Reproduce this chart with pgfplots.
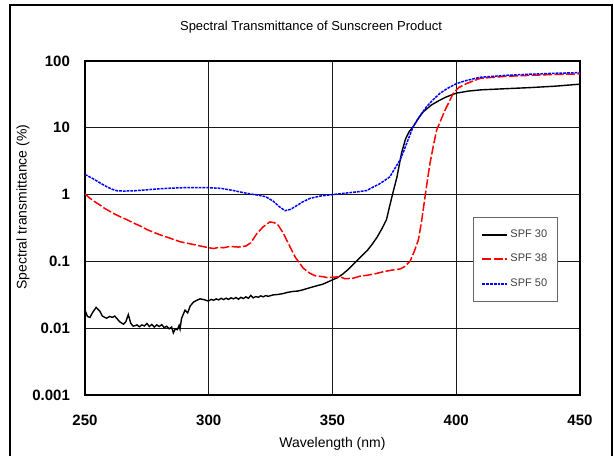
\documentclass[border=0pt]{standalone}
\usepackage{fontspec}
\setmainfont{Liberation Sans}
\usepackage{pgfplots}
\pgfplotsset{compat=1.18}

% SPF 30
\pgfplotstableread{
wl T
250 0.0186
251 0.0150
252 0.0145
253 0.0170
254.5 0.0205
256 0.0180
257 0.0152
258.7 0.0141
260 0.0150
261 0.0145
262 0.0152
263 0.0138
264 0.0125
265.5 0.0115
266.5 0.0125
267.5 0.0160
268.5 0.0118
269.5 0.0107
271 0.0112
272 0.0105
273 0.0112
274 0.0108
275 0.0118
276 0.0106
277 0.0114
278 0.0104
279 0.0112
280 0.0106
281 0.0113
282 0.0102
283 0.0107
284 0.0098
285 0.0104
285.7 0.0085
286.5 0.0098
287.3 0.0095
288 0.0110
288.4 0.0097
289 0.0140
290.4 0.0186
291.5 0.0170
292.5 0.0215
293.8 0.0245
295 0.0260
296.5 0.0275
298 0.0268
299.8 0.0255
301 0.0270
302 0.0262
303 0.0275
304 0.0265
305 0.0280
306 0.0268
307 0.0282
308 0.0270
309 0.0285
310 0.0275
311 0.0288
312 0.0272
313 0.0290
314 0.0278
315 0.0295
316 0.0280
317 0.0310
318 0.0285
319 0.0298
320 0.0290
321 0.0305
322 0.0295
323 0.0308
324 0.0300
326 0.0315
328 0.0320
330 0.0330
332 0.0345
334 0.0355
336 0.0360
338 0.0375
340 0.0395
342 0.0415
344 0.0435
346 0.0455
348 0.0490
350 0.053
352 0.057
354 0.064
356 0.074
358 0.087
360 0.104
362 0.123
364 0.145
366 0.180
368 0.230
370 0.310
371.8 0.42
373 0.65
374.5 1.1
376 1.8
377.9 4.2
379.5 6.8
381 8.8
382.6 10.4
384.5 13.5
386.7 17.4
390 22
393.4 26
396 29
400 33
405 35.5
410 37
420 38.5
430 40
440 42
450 45
}\spfA

% SPF 38
\pgfplotstableread{
wl T
250 1.02
252 0.88
254 0.78
256 0.70
258 0.62
261.4 0.525
264 0.47
267 0.42
270 0.37
273 0.33
275 0.30
278 0.27
281 0.245
284 0.225
288.4 0.197
292 0.185
296 0.172
300 0.160
302 0.156
304 0.162
306 0.160
308 0.166
310 0.166
312 0.164
315 0.170
317 0.19
319.4 0.26
322 0.33
324.7 0.39
326.5 0.38
328 0.35
330 0.27
332.8 0.166
335 0.115
338.2 0.079
341 0.066
343 0.061
346.3 0.059
348 0.057
350 0.058
353 0.059
355 0.055
358.4 0.056
361 0.060
364 0.062
367 0.065
370.5 0.070
374 0.074
377.3 0.077
379 0.083
381.3 0.10
383 0.14
384.7 0.21
386 0.40
387.4 0.93
388.5 1.8
389.4 2.95
390.8 5.5
392.1 9.3
395.5 18.5
398.8 32.8
401 40
404.2 46
409.6 55
420 59
430 61
440 63
450 64
}\spfB

% SPF 50
\pgfplotstableread{
wl T
250 2.0
253 1.75
256 1.5
259 1.3
261 1.2
263 1.14
266 1.13
270 1.14
275 1.18
280 1.22
285 1.25
290 1.27
295 1.27
300 1.27
305 1.24
310 1.15
314 1.07
317 1.02
320 0.98
323 0.93
326 0.80
328.5 0.66
330.8 0.575
333 0.60
336 0.70
338 0.78
341 0.88
345 0.95
350 1.00
355 1.05
360 1.10
363.8 1.15
366.5 1.3
369 1.45
371 1.62
373.2 1.85
375 2.4
377.3 3.3
378.8 4.5
380 5.9
382.6 10.4
385 14.5
388 20.7
390.5 26
393.4 32.8
396.5 39
400.2 46
404 51
409.6 57
420 61
430 63.5
440 65.5
450 67
}\spfC

\begin{document}
\begin{tikzpicture}
\useasboundingbox (-42.5pt,-30pt) rectangle (264.5pt,197.5pt);
\draw[black, line width=0.6pt] (-37.5pt,-31pt) -- (-37.5pt,195pt) -- (263.5pt,195pt) -- (263.5pt,-31pt);
\begin{axis}[
    at={(0pt,0pt)}, anchor=south west,
    scale only axis,
    width=247.5pt, height=167pt,
    ymode=log,
    xmin=250, xmax=450, ymin=0.001, ymax=100,
    xtick={250,300,350,400,450},
    xticklabels={250,300,350,400,450},
    ytick={0.001,0.01,0.1,100},
    yticklabels={0.001,0.01,0.1,100},
    extra y ticks={1,10},
    extra y tick labels={1,10},
    extra y tick style={grid style={black!45, line width=0.5pt}},
    minor tick num=0,
    grid=major,
    major grid style={black!90, line width=0.5pt},
    major tick length=0pt,
    tick style={draw=none},
    axis line style={line width=0.8pt},
    /pgf/number format/assume math mode=true,
    tick label style={font=\fontsize{7.5}{8}\selectfont\bfseries},
    xticklabel style={yshift=-6.5pt},
    yticklabel style={xshift=-4pt},
    legend style={at={(rel axis cs:0.784,0.533)}, anchor=north west,
        draw=black!60, line width=0.4pt, fill=white,
        font=\fontsize{5.5}{6}\selectfont, text=black!75,
        row sep=5pt, inner xsep=4pt, inner ysep=5pt,
        nodes={inner sep=1pt}},
    legend cell align=left,
    legend image code/.code={\draw[#1, line width=1pt] (0pt,0pt) -- (12.5pt,0pt);},
]
\addplot[black, line width=0.7pt] table[x=wl, y=T] {\spfA};
\addplot[red, line width=0.75pt, dash pattern=on 4.5pt off 1.2pt] table[x=wl, y=T] {\spfB};
\addplot[blue, line width=0.75pt, dash pattern=on 1.4pt off 0.5pt] table[x=wl, y=T] {\spfC};
\legend{SPF 30, SPF 38, SPF 50}
\end{axis}
\node[font=\fontsize{6.5}{7}\selectfont] at (113pt,184pt) {Spectral Transmittance of Sunscreen Product};
\node[font=\fontsize{7}{8}\selectfont] at (123.75pt,-24.5pt) {Wavelength (nm)};
\node[font=\fontsize{7}{8}\selectfont, rotate=90, anchor=west, inner sep=0pt] at (-31pt,52.5pt) {Spectral transmittance (\%)};
\end{tikzpicture}
\end{document}
